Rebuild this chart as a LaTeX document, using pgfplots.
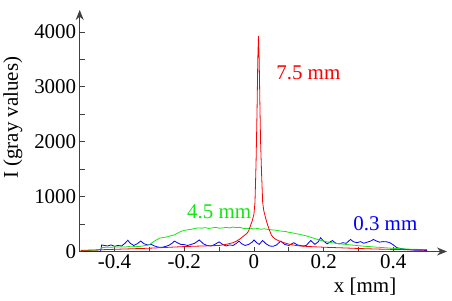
\documentclass[border=0pt]{standalone}
\usepackage{fontspec}
\setmainfont{Liberation Serif}
\usepackage{pgfplots}
\pgfplotsset{compat=1.18}
\usetikzlibrary{arrows.meta}
\definecolor{cred}{RGB}{255,0,0}
\definecolor{cgreen}{RGB}{20,230,20}
\definecolor{cblue}{RGB}{0,0,255}
\begin{document}
\begin{tikzpicture}[font=\fontsize{21}{24}\selectfont]
\begin{axis}[
  scale only axis, width=368pt, height=242pt,
  xmin=-0.5, xmax=0.554, ymin=0, ymax=4400,
  axis lines=left,
  axis line style={black!75, line width=1pt, -{Stealth[length=10pt,width=8pt]}},
  xtick={-0.4,-0.2,0,0.2,0.4}, minor xtick={-0.3,-0.1,0.1,0.3},
  ytick={0,1000,2000,3000,4000}, minor ytick={500,1500,2500,3500},
  tick style={black!75, line width=0.8pt},
  major tick length=5pt, minor tick length=5pt,
  tick align=inside,
  scaled ticks=false,
  /pgf/number format/1000 sep={},
  /pgf/number format/assume math mode=true,
  tick label style={font=\fontsize{21}{24}\selectfont},
  label style={font=\fontsize{21}{24}\selectfont},
  xlabel={x [mm]},
  xlabel style={at={(axis description cs:0.777,0)}, anchor=base, yshift=-41pt},
  ylabel={I (gray values)},
  ylabel style={at={(axis description cs:-0.182,0.554)}, anchor=center},
  clip=false,
]
% 0.3 mm (blue)
\addplot[cblue, line width=0.8pt] coordinates {
(-0.497,5) (-0.44,5) (-0.437,120) (-0.43,110) (-0.42,100) (-0.41,120) (-0.40,95)
(-0.39,110) (-0.38,100) (-0.37,150) (-0.362,205) (-0.355,150) (-0.345,110)
(-0.335,140) (-0.325,190) (-0.315,140) (-0.305,120) (-0.295,130) (-0.285,100)
(-0.275,80) (-0.265,75) (-0.255,90) (-0.245,110) (-0.235,150) (-0.228,190)
(-0.22,160) (-0.21,130) (-0.20,125) (-0.19,110) (-0.18,130) (-0.17,150)
(-0.157,210) (-0.145,140) (-0.135,110) (-0.123,100) (-0.112,130) (-0.10,175)
(-0.09,130) (-0.08,100) (-0.07,120) (-0.06,110) (-0.05,150) (-0.043,190)
(-0.035,140) (-0.025,110) (-0.015,130) (-0.005,170) (0.0,210) (0.008,160)
(0.015,130) (0.025,200) (0.035,140) (0.045,100) (0.055,95) (0.065,120)
(0.077,190) (0.088,130) (0.10,110) (0.114,160) (0.125,120) (0.14,100)
(0.15,110) (0.163,200) (0.175,130) (0.185,180) (0.191,250) (0.20,190)
(0.21,140) (0.225,200) (0.235,150) (0.245,140) (0.255,160) (0.265,150)
(0.277,220) (0.285,180) (0.295,160) (0.306,180) (0.315,150) (0.325,170)
(0.335,190) (0.343,220) (0.352,190) (0.36,170) (0.37,180) (0.382,175)
(0.39,160) (0.40,120) (0.41,70) (0.425,50) (0.44,35) (0.46,25) (0.497,20)
};
% 4.5 mm (green)
\addplot[cgreen, line width=0.8pt] coordinates {
(-0.497,15) (-0.47,20) (-0.45,25) (-0.44,40) (-0.435,70) (-0.42,80) (-0.41,75)
(-0.40,85) (-0.39,80) (-0.38,85) (-0.37,80) (-0.36,90) (-0.35,85) (-0.34,95)
(-0.33,90) (-0.32,100) (-0.31,110) (-0.30,125) (-0.29,170) (-0.28,210)
(-0.27,245) (-0.26,255) (-0.25,265) (-0.24,285) (-0.23,300) (-0.22,330)
(-0.21,365) (-0.20,385) (-0.19,395) (-0.18,405) (-0.17,420) (-0.16,430)
(-0.15,425) (-0.14,435) (-0.13,420) (-0.12,430) (-0.11,440) (-0.10,425)
(-0.09,430) (-0.08,440) (-0.07,430) (-0.06,445) (-0.05,435) (-0.04,440)
(-0.03,420) (-0.02,415) (-0.01,425) (0.00,410) (0.01,420) (0.02,405)
(0.03,415) (0.04,400) (0.05,395) (0.06,390) (0.07,380) (0.08,370) (0.09,365)
(0.10,350) (0.11,340) (0.12,325) (0.13,315) (0.14,300) (0.15,285) (0.16,265)
(0.17,245) (0.18,225) (0.19,205) (0.20,190) (0.21,175) (0.22,165) (0.23,155)
(0.24,145) (0.25,138) (0.27,125) (0.29,112) (0.31,100) (0.33,90) (0.35,80)
(0.37,72) (0.39,62) (0.41,55) (0.43,48) (0.45,42) (0.47,38) (0.497,35)
};
% 7.5 mm (red)
\addplot[cred, line width=0.8pt] coordinates {
(-0.497,20) (-0.45,30) (-0.40,40) (-0.35,50) (-0.30,60) (-0.25,75) (-0.20,90)
(-0.15,100) (-0.10,110) (-0.08,130) (-0.06,160) (-0.05,190) (-0.04,230)
(-0.03,280) (-0.02,330) (-0.015,380) (-0.01,470) (-0.005,560) (0.000,680)
(0.003,900) (0.006,1600) (0.009,2600) (0.011,3500) (0.013,3930) (0.015,3500)
(0.017,2700) (0.019,2000) (0.022,1400) (0.025,900) (0.028,750) (0.032,650)
(0.036,550) (0.040,470) (0.045,380) (0.050,300) (0.055,260) (0.063,220)
(0.075,185) (0.086,160) (0.10,135) (0.12,110) (0.134,100) (0.16,90)
(0.20,78) (0.25,67) (0.30,55) (0.35,45) (0.40,38) (0.45,32) (0.497,28)
};
\node[text=cred, anchor=west] at (axis cs:0.054,3254) {7.5 mm};
\node[text=cgreen, anchor=center] at (axis cs:-0.1,727) {4.5 mm};
\node[text=cblue, anchor=center] at (axis cs:0.377,509) {0.3 mm};
\path (axis description cs:-0.2147,-0.2025) rectangle (axis description cs:1.0136,1.0413);
\end{axis}
\end{tikzpicture}
\end{document}
